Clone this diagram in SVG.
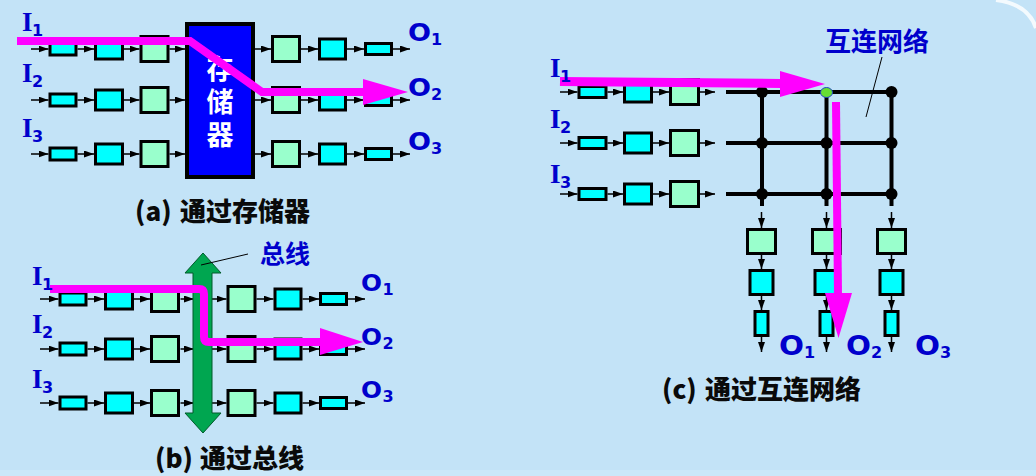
<svg xmlns="http://www.w3.org/2000/svg" width="1036" height="476" viewBox="0 0 1036 476">
<style>
.c{fill:#00FFFF;stroke:#000;stroke-width:3}
.g{fill:#99FFCC;stroke:#000;stroke-width:3}
.ln{stroke:#000;stroke-width:1.5;fill:none;marker-end:url(#ah)}
.grid{stroke:#000;stroke-width:4;fill:none}
.dot{fill:#000}
.mg{stroke:#FF00FF;fill:none}
.mgf{fill:#FF00FF}
.lbl{font-family:"Liberation Serif",serif;font-weight:bold;fill:#0000CC}
.sub{font-family:"DejaVu Sans",sans-serif;font-weight:bold;fill:#0000CC;font-size:16px}
.ol{font-family:"DejaVu Sans",sans-serif;font-weight:bold;fill:#0000CC}
.cjk{font-family:"Noto Sans CJK SC","Noto Sans",sans-serif;font-weight:bold}
.title{font-family:"Noto Sans CJK SC","Noto Sans",sans-serif;font-weight:900;fill:#0A0A0A;font-size:26px}
.lead{stroke:#000;stroke-width:1;fill:none}
</style>
<defs>
<marker id="ah" viewBox="0 0 10 7" refX="10" refY="3.5" markerWidth="10" markerHeight="7" markerUnits="userSpaceOnUse" orient="auto">
<path d="M0,0 L10,3.5 L0,7 z" fill="#000"/>
</marker>
</defs>
<rect x="0" y="0" width="1036" height="476" fill="#C3E3F7"/>
<rect x="0" y="470" width="1036" height="6" fill="#CBE8F9"/>
<path d="M996,0 Q1028,4 1036,28" stroke="#FFFFFF" stroke-width="4" fill="none" opacity="0.8"/>

<!-- ===== Panel (a) ===== -->
<g id="connectors-a">
<line class="ln" x1="31" y1="49" x2="48.5" y2="49"/>
<line class="ln" x1="77.5" y1="49" x2="94" y2="49"/>
<line class="ln" x1="124" y1="49" x2="139.5" y2="49"/>
<line class="ln" x1="169.5" y1="49" x2="185" y2="49"/>
<line class="ln" x1="255" y1="49" x2="271" y2="49"/>
<line class="ln" x1="301" y1="49" x2="318" y2="49"/>
<line class="ln" x1="347" y1="49" x2="364" y2="49"/>
<line class="ln" x1="393" y1="49" x2="410" y2="49"/>
<line class="ln" x1="31" y1="100" x2="48.5" y2="100"/>
<line class="ln" x1="77.5" y1="100" x2="94" y2="100"/>
<line class="ln" x1="124" y1="100" x2="139.5" y2="100"/>
<line class="ln" x1="169.5" y1="100" x2="185" y2="100"/>
<line class="ln" x1="255" y1="100" x2="271" y2="100"/>
<line class="ln" x1="301" y1="100" x2="318" y2="100"/>
<line class="ln" x1="347" y1="100" x2="364" y2="100"/>
<line class="ln" x1="393" y1="100" x2="410" y2="100"/>
<line class="ln" x1="31" y1="154" x2="48.5" y2="154"/>
<line class="ln" x1="77.5" y1="154" x2="94" y2="154"/>
<line class="ln" x1="124" y1="154" x2="139.5" y2="154"/>
<line class="ln" x1="169.5" y1="154" x2="185" y2="154"/>
<line class="ln" x1="255" y1="154" x2="271" y2="154"/>
<line class="ln" x1="301" y1="154" x2="318" y2="154"/>
<line class="ln" x1="347" y1="154" x2="364" y2="154"/>
<line class="ln" x1="393" y1="154" x2="410" y2="154"/>
</g>
<g id="a-row1-in">
<rect class="c" x="50" y="43" width="26" height="12"/>
<rect class="c" x="95.5" y="39" width="27" height="20"/>
<rect class="g" x="141" y="36.5" width="27" height="25"/>
</g>
<g id="a-row2-in">
<rect class="c" x="50" y="94" width="26" height="12"/>
<rect class="c" x="95.5" y="90" width="27" height="20"/>
<rect class="g" x="141" y="87.5" width="27" height="25"/>
</g>
<g id="a-row3-in">
<rect class="c" x="50" y="148" width="26" height="12"/>
<rect class="c" x="95.5" y="144" width="27" height="20"/>
<rect class="g" x="141" y="141.5" width="27" height="25"/>
</g>
<g id="a-row1-out">
<rect class="g" x="272.5" y="36.5" width="27" height="25"/>
<rect class="c" x="319.5" y="39" width="26" height="20"/>
<rect class="c" x="365.5" y="43.5" width="26" height="11"/>
</g>
<g id="a-row2-out">
<rect class="g" x="272.5" y="87.5" width="27" height="25"/>
<rect class="c" x="319.5" y="90" width="26" height="20"/>
<rect class="c" x="365.5" y="94.5" width="26" height="11"/>
</g>
<g id="a-row3-out">
<rect class="g" x="272.5" y="141.5" width="27" height="25"/>
<rect class="c" x="319.5" y="144" width="26" height="20"/>
<rect class="c" x="365.5" y="148.5" width="26" height="11"/>
</g>
<g id="memory">
<rect x="187" y="24" width="66" height="153" fill="#0000FF" stroke="#000" stroke-width="4"/>
<text class="cjk" x="220" y="55" font-size="27" fill="#FFFFFF" style="writing-mode:vertical-rl;letter-spacing:6px">存储器</text>
</g>
<g id="path-a">
<polyline class="mg" stroke-width="8" points="17,41 190,41 262,92 364,92"/>
<polygon class="mgf" points="363,79 408,92 363,105"/>
</g>
<g id="labels-a">
<text class="lbl" x="22" y="31" font-size="27">I</text><text class="sub" x="32" y="36">1</text>
<text class="lbl" x="22" y="82" font-size="27">I</text><text class="sub" x="32" y="87">2</text>
<text class="lbl" x="22" y="137" font-size="27">I</text><text class="sub" x="32" y="142">3</text>
<text class="ol" x="408" y="41" font-size="24" textLength="23" lengthAdjust="spacingAndGlyphs">O</text><text class="sub" x="431" y="45">1</text>
<text class="ol" x="408" y="96" font-size="24" textLength="23" lengthAdjust="spacingAndGlyphs">O</text><text class="sub" x="431" y="100">2</text>
<text class="ol" x="408" y="150" font-size="24" textLength="23" lengthAdjust="spacingAndGlyphs">O</text><text class="sub" x="431" y="154">3</text>
<text class="title" x="135" y="221">(a) <tspan x="180">通过存储器</tspan></text>
</g>

<!-- ===== Panel (b) ===== -->
<g id="connectors-b">
<line class="ln" x1="40" y1="299" x2="58.5" y2="299"/>
<line class="ln" x1="87.5" y1="299" x2="104" y2="299"/>
<line class="ln" x1="134" y1="299" x2="150" y2="299"/>
<line class="ln" x1="180.5" y1="299" x2="194" y2="299"/>
<line class="ln" x1="212" y1="299" x2="226.5" y2="299"/>
<line class="ln" x1="256.5" y1="299" x2="273.5" y2="299"/>
<line class="ln" x1="302.5" y1="299" x2="319" y2="299"/>
<line class="ln" x1="348" y1="299" x2="365" y2="299"/>
<line class="ln" x1="40" y1="349" x2="58.5" y2="349"/>
<line class="ln" x1="87.5" y1="349" x2="104" y2="349"/>
<line class="ln" x1="134" y1="349" x2="150" y2="349"/>
<line class="ln" x1="180.5" y1="349" x2="194" y2="349"/>
<line class="ln" x1="212" y1="349" x2="226.5" y2="349"/>
<line class="ln" x1="256.5" y1="349" x2="273.5" y2="349"/>
<line class="ln" x1="302.5" y1="349" x2="319" y2="349"/>
<line class="ln" x1="348" y1="349" x2="365" y2="349"/>
<line class="ln" x1="40" y1="403" x2="58.5" y2="403"/>
<line class="ln" x1="87.5" y1="403" x2="104" y2="403"/>
<line class="ln" x1="134" y1="403" x2="150" y2="403"/>
<line class="ln" x1="180.5" y1="403" x2="194" y2="403"/>
<line class="ln" x1="212" y1="403" x2="226.5" y2="403"/>
<line class="ln" x1="256.5" y1="403" x2="273.5" y2="403"/>
<line class="ln" x1="302.5" y1="403" x2="319" y2="403"/>
<line class="ln" x1="348" y1="403" x2="365" y2="403"/>
</g>
<g id="b-row1-in">
<rect class="c" x="60" y="293" width="26" height="12"/>
<rect class="c" x="105.5" y="289" width="27" height="20"/>
<rect class="g" x="151.5" y="286.5" width="27" height="25"/>
</g>
<g id="b-row2-in">
<rect class="c" x="60" y="343" width="26" height="12"/>
<rect class="c" x="105.5" y="339" width="27" height="20"/>
<rect class="g" x="151.5" y="336.5" width="27" height="25"/>
</g>
<g id="b-row3-in">
<rect class="c" x="60" y="397" width="26" height="12"/>
<rect class="c" x="105.5" y="393" width="27" height="20"/>
<rect class="g" x="151.5" y="390.5" width="27" height="25"/>
</g>
<g id="b-row1-out">
<rect class="g" x="228" y="286.5" width="27" height="25"/>
<rect class="c" x="275" y="289" width="26" height="20"/>
<rect class="c" x="320.5" y="293.5" width="26" height="11"/>
</g>
<g id="b-row2-out">
<rect class="g" x="228" y="336.5" width="27" height="25"/>
<rect class="c" x="275" y="339" width="26" height="20"/>
<rect class="c" x="320.5" y="343.5" width="26" height="11"/>
</g>
<g id="b-row3-out">
<rect class="g" x="228" y="390.5" width="27" height="25"/>
<rect class="c" x="275" y="393" width="26" height="20"/>
<rect class="c" x="320.5" y="397.5" width="26" height="11"/>
</g>
<g id="bus">
<polygon points="203,253 221,273 212,273 212,413 221,413 203,433 185,413 193,413 193,273 185,273" fill="#00A650" stroke="#005A2A" stroke-width="1"/>
<line class="lead" x1="201" y1="265" x2="248" y2="254"/>
<text class="cjk" x="260" y="263" font-size="25" fill="#0000CC">总线</text>
</g>
<g id="path-b">
<path class="mg" stroke-width="8" d="M50,289 H199 Q204,289 204,294 V337 Q204,342 209,342 H321"/>
<polygon class="mgf" points="320,328 363,342 320,355"/>
</g>
<g id="labels-b">
<text class="lbl" x="32" y="285" font-size="27">I</text><text class="sub" x="42" y="290">1</text>
<text class="lbl" x="32" y="333" font-size="27">I</text><text class="sub" x="42" y="338">2</text>
<text class="lbl" x="32" y="388" font-size="27">I</text><text class="sub" x="42" y="393">3</text>
<text class="ol" x="361" y="291" font-size="23" textLength="21" lengthAdjust="spacingAndGlyphs">O</text><text class="sub" x="382.5" y="295">1</text>
<text class="ol" x="361" y="345" font-size="23" textLength="21" lengthAdjust="spacingAndGlyphs">O</text><text class="sub" x="382.5" y="349">2</text>
<text class="ol" x="361" y="398" font-size="23" textLength="21" lengthAdjust="spacingAndGlyphs">O</text><text class="sub" x="382.5" y="402">3</text>
<text class="title" x="155" y="468">(b) <tspan x="200">通过总线</tspan></text>
</g>

<!-- ===== Panel (c) ===== -->
<g id="connectors-c">
<line class="ln" x1="560" y1="92" x2="577.5" y2="92"/>
<line class="ln" x1="607.5" y1="92" x2="623" y2="92"/>
<line class="ln" x1="653" y1="92" x2="669" y2="92"/>
<line class="ln" x1="700" y1="92" x2="715" y2="92"/>
<line class="ln" x1="560" y1="143" x2="577.5" y2="143"/>
<line class="ln" x1="607.5" y1="143" x2="623" y2="143"/>
<line class="ln" x1="653" y1="143" x2="669" y2="143"/>
<line class="ln" x1="700" y1="143" x2="715" y2="143"/>
<line class="ln" x1="560" y1="194" x2="577.5" y2="194"/>
<line class="ln" x1="607.5" y1="194" x2="623" y2="194"/>
<line class="ln" x1="653" y1="194" x2="669" y2="194"/>
<line class="ln" x1="700" y1="194" x2="715" y2="194"/>
<line class="ln" x1="761.5" y1="212" x2="761.5" y2="228"/>
<line class="ln" x1="761.5" y1="255" x2="761.5" y2="269"/>
<line class="ln" x1="761.5" y1="296" x2="761.5" y2="310"/>
<line class="ln" x1="761.5" y1="337" x2="761.5" y2="352"/>
<line class="ln" x1="826.5" y1="212" x2="826.5" y2="228"/>
<line class="ln" x1="826.5" y1="255" x2="826.5" y2="269"/>
<line class="ln" x1="826.5" y1="296" x2="826.5" y2="310"/>
<line class="ln" x1="826.5" y1="337" x2="826.5" y2="352"/>
<line class="ln" x1="891.5" y1="212" x2="891.5" y2="228"/>
<line class="ln" x1="891.5" y1="255" x2="891.5" y2="269"/>
<line class="ln" x1="891.5" y1="296" x2="891.5" y2="310"/>
<line class="ln" x1="891.5" y1="337" x2="891.5" y2="352"/>
</g>
<g id="c-row1-in">
<rect class="c" x="579" y="86.5" width="27" height="11"/>
<rect class="c" x="624.5" y="82" width="27" height="20"/>
<rect class="g" x="670.5" y="79.5" width="28" height="25"/>
</g>
<g id="c-row2-in">
<rect class="c" x="579" y="137.5" width="27" height="11"/>
<rect class="c" x="624.5" y="133" width="27" height="20"/>
<rect class="g" x="670.5" y="130.5" width="28" height="25"/>
</g>
<g id="c-row3-in">
<rect class="c" x="579" y="188.5" width="27" height="11"/>
<rect class="c" x="624.5" y="184" width="27" height="20"/>
<rect class="g" x="670.5" y="181.5" width="28" height="25"/>
</g>
<g id="network">
<line class="grid" x1="726" y1="92" x2="892" y2="92"/>
<line class="grid" x1="726" y1="143" x2="892" y2="143"/>
<line class="grid" x1="726" y1="194" x2="892" y2="194"/>
<line class="grid" x1="762" y1="92" x2="762" y2="206"/>
<line class="grid" x1="826.5" y1="92" x2="826.5" y2="206"/>
<line class="grid" x1="891.5" y1="92" x2="891.5" y2="206"/>
<circle class="dot" cx="762" cy="92" r="6"/>
<circle class="dot" cx="891.5" cy="92" r="6"/>
<circle class="dot" cx="762" cy="143" r="6"/>
<circle class="dot" cx="826.5" cy="143" r="6"/>
<circle class="dot" cx="891.5" cy="143" r="6"/>
<circle class="dot" cx="762" cy="194" r="6"/>
<circle class="dot" cx="826.5" cy="194" r="6"/>
<circle class="dot" cx="891.5" cy="194" r="6"/>
<ellipse cx="826.5" cy="92.5" rx="6" ry="5" fill="#66DD33" stroke="#2244CC" stroke-width="1"/>
<line class="lead" x1="882" y1="57" x2="866" y2="117"/>
<text class="cjk" x="825" y="51" font-size="26" fill="#0000CC">互连网络</text>
</g>
<g id="c-col1-out">
<rect class="g" x="747.5" y="229.5" width="28" height="24"/>
<rect class="c" x="750" y="270.5" width="23" height="24"/>
<rect class="c" x="755" y="311.5" width="13" height="24"/>
</g>
<g id="c-col2-out">
<rect class="g" x="812.5" y="229.5" width="28" height="24"/>
<rect class="c" x="815" y="270.5" width="23" height="24"/>
<rect class="c" x="820" y="311.5" width="13" height="24"/>
</g>
<g id="c-col3-out">
<rect class="g" x="877.5" y="229.5" width="28" height="24"/>
<rect class="c" x="880" y="270.5" width="23" height="24"/>
<rect class="c" x="885" y="311.5" width="13" height="24"/>
</g>
<g id="path-c">
<line class="mg" stroke-width="9" x1="560" y1="81.5" x2="781" y2="83.5"/>
<polygon class="mgf" points="780,71 825,84 780,97"/>
<line class="mg" stroke-width="8" x1="836" y1="102" x2="838" y2="294"/>
<polygon class="mgf" points="825,293 838.5,338 852,293"/>
</g>
<g id="labels-c">
<text class="lbl" x="550" y="77" font-size="27">I</text><text class="sub" x="560" y="82">1</text>
<text class="lbl" x="550" y="128" font-size="27">I</text><text class="sub" x="560" y="133">2</text>
<text class="lbl" x="550" y="183" font-size="27">I</text><text class="sub" x="560" y="188">3</text>
<text class="ol" x="779" y="355" font-size="27" textLength="25" lengthAdjust="spacingAndGlyphs">O</text><text class="sub" x="804" y="358" font-size="17">1</text>
<text class="ol" x="846" y="355" font-size="27" textLength="25" lengthAdjust="spacingAndGlyphs">O</text><text class="sub" x="871" y="358" font-size="17">2</text>
<text class="ol" x="915" y="355" font-size="27" textLength="25" lengthAdjust="spacingAndGlyphs">O</text><text class="sub" x="940" y="358" font-size="17">3</text>
<text class="title" x="662" y="399">(c) <tspan x="705">通过互连网络</tspan></text>
</g>
</svg>
